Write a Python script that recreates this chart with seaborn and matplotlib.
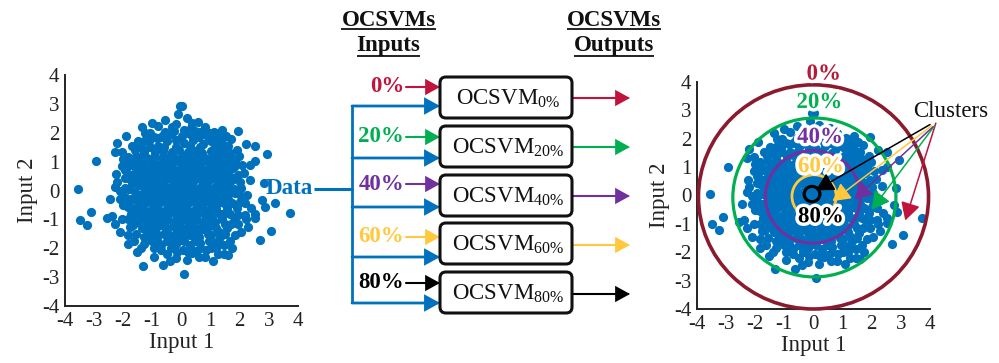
import numpy as np
import pandas as pd
import matplotlib
matplotlib.use("Agg")
import matplotlib.pyplot as plt
import seaborn as sns
from matplotlib.patches import FancyArrowPatch, FancyBboxPatch, Circle
import matplotlib.patheffects as pe

# ---------------------------------------------------------------- data
# outlying / mid-range samples (Input 1, Input 2)
spread_points = [
    (-3.54, 0.04), (-2.93, 1.02), (-3.48, -1.02), (-3.12, -0.76), (-3.26, -1.2),
    (-2.57, -0.94), (-2.4, -0.88), (-2.3, 1.32), (-2.25, 0.56), (-2.3, 0.13),
    (-2.3, -1.16), (-2.03, 1.35), (-1.71, 1.55), (-1.85, 1.17), (-1.88, 0.82),
    (-1.82, 0.42), (-1.71, 0.25), (-1.94, -0.21), (-1.82, -0.56), (-1.77, -1.25),
    (-1.82, -1.86), (-1.62, -1.74), (-1.54, -2.14), (-1.36, 2.19), (-1.33, -2.6),
    (-0.96, -2.29), (-0.62, -2.58), (-0.71, -2.06), (-0.16, -2.12), (0.09, -2.89),
    (0.24, -2.14), (0.45, -2.1), (0.81, -2.31), (1.08, -2.43), (1.27, -2.2),
    (1.59, -2.24), (1.85, -1.54), (1.93, -1.16), (2.17, -0.85), (2.19, -0.45),
    (2.04, 0.08), (2.13, 0.59), (2.07, 0.88), (1.96, 1.19), (2.22, 1.61),
    (2.51, 1.55), (2.53, 1.02), (2.93, 1.26), (2.82, 0.25), (2.76, -0.33),
    (2.88, -0.58), (3.22, -0.45), (3.74, -0.79), (3.08, -1.39), (2.7, -1.71),
    (2.53, -0.81), (2.53, -0.96), (1.71, 1.77), (1.54, 1.89), (1.13, 2.04),
    (0.99, 1.98), (0.64, 2.04), (0.56, 2.38), (0.33, 2.15), (0.18, 2.5),
    (-0.13, 2.64), (-0.05, 2.92), (0.01, 2.92), (-0.33, 2.21), (-0.58, 2.04),
    (-1.08, 1.98), (-1.19, 1.81), (-0.85, 1.81), (-1.42, 1.12), (-1.08, 1.52),
    (-1.02, 1.06), (-1.48, 0.19), (-1.42, -0.16), (-1.56, -0.33), (-1.42, -0.79),
    (-1.51, -1.08), (-1.19, -1.37), (-1.08, -1.6), (-0.79, -1.77), (-0.39, -1.8),
    (-0.05, -1.71), (0.64, -1.83), (1.01, -1.77), (1.33, -1.6), (1.65, -1.74),
    (1.56, -1.31), (1.79, -0.91), (1.85, -0.1), (1.73, 0.36), (1.79, 0.82),
    (1.67, 1.29), (1.39, 1.63), (1.21, 1.4), (1.2, 1.6), (1.35, 1.48),
    (1.5, 1.35), (1.65, 1.2),
    (-1.6, 0.6), (-1.55, 0.95), (-1.3, 1.35), (-0.8, 1.55), (-0.5, 1.7),
    (-0.2, 1.75), (0.1, 1.65), (0.4, 1.75), (0.75, 1.6), (1.0, 1.7),
    (1.3, 1.2), (1.5, 0.95), (1.55, 0.6), (1.6, 0.2), (1.6, -0.3),
    (1.55, -0.65), (1.4, -1.0), (1.2, -1.3), (0.9, -1.5), (0.6, -1.6),
    (0.3, -1.55), (0.0, -1.5), (-0.3, -1.6), (-0.6, -1.5), (-0.9, -1.3),
    (-1.2, -1.1), (-1.45, -0.55), (-1.6, -0.05), (-1.65, 0.3), (-1.95, 0.1),
    (-2.0, -0.5), (-1.75, -0.8), (-2.05, -1.0), (-1.55, -1.5), (-1.3, -1.85),
    (-0.5, -2.2), (0.3, -1.9), (1.0, -2.0), (1.45, -1.9), (1.9, -0.6),
    (2.0, 0.3), (1.9, 1.4), (1.35, 1.9), (0.8, 2.2), (-0.2, 2.3),
    (-0.8, 2.25), (-1.5, 1.7), (-1.9, 1.9), (-2.05, 0.85), (2.25, -0.15),
    (2.3, -1.25), (0.2, -2.4),
]

# ring of moderately dense samples around the centre
ring_points = [
    (-1.55, 1.2), (-1.4, 1.5), (-1.1, 1.7), (-0.7, 1.85), (-0.35, 1.95), (0.0, 1.9),
    (0.3, 1.95), (0.6, 1.85), (0.9, 1.85), (1.15, 1.55), (1.45, 1.1), (1.7, 0.75),
    (1.75, 0.45), (1.8, 0.05), (1.75, -0.45), (1.65, -0.8), (1.5, -1.15), (1.3, -1.45),
    (1.0, -1.55), (0.75, -1.35), (0.45, -1.75), (0.1, -1.75), (-0.2, -1.85), (-0.5, -1.75),
    (-0.8, -1.55), (-1.05, -1.45), (-1.35, -1.3), (-1.55, -0.95), (-1.7, -0.6), (-1.75, -0.3),
    (-1.8, 0.05), (-1.75, 0.55), (-1.7, 0.9), (-1.45, 0.75), (-1.55, 0.35), (-1.5, -0.7),
    (1.45, -0.45), (1.6, 0.45), (1.3, 0.85), (1.55, 1.05),
    (-2.1, -0.3), (-2.2, 0.3), (-2.0, 1.1), (-1.25, 2.0), (-0.55, 2.45), (0.35, 2.35),
    (1.4, 2.1), (2.35, 0.35), (2.4, -0.6), (2.05, -1.45), (1.2, -2.0), (-0.2, -2.35),
    (-0.95, -2.0), (-2.1, -1.45), (-2.45, -0.3), (-1.0, 2.35), (0.85, -2.05), (2.05, -0.2),
    (-2.2, 1.65), (1.75, -2.0),
    (-1.95, 0.45), (-1.9, -0.4), (-1.85, -1.0), (-1.65, -1.2), (-1.3, -1.6), (-1.0, -1.75),
    (-0.7, -1.9), (-0.35, -2.0), (0.05, -2.05), (0.35, -2.15), (0.65, -2.0), (0.95, -1.75),
    (1.25, -1.75), (1.5, -1.5), (1.7, -1.15), (1.95, -0.85), (2.0, -0.4), (1.95, 0.55),
    (1.85, 1.0), (1.6, 1.55), (1.2, 1.85), (0.8, 1.95), (0.45, 2.05), (0.1, 2.1),
    (-0.25, 2.05), (-0.6, 1.95), (-0.95, 1.85), (-1.3, 1.7), (-1.6, 1.4), (-1.8, 1.05),
    (-1.95, 0.7), (-2.1, 0.0), (-1.85, -1.55), (-1.4, -2.0), (-0.4, -2.45), (0.6, -2.3),
    (1.45, -2.2), (2.2, -1.0), (2.35, 0.9), (1.95, 2.05),
]

# dense central samples
core_points = [
    (-0.9, 1.35), (-0.62, 1.38), (-0.33, 1.32), (-0.08, 1.4), (0.21, 1.33), (0.47, 1.37), (0.72, 1.31), (1.02, 1.36),
    (-1.18, 1.14), (-0.96, 1.17), (-0.68, 1.12), (-0.44, 1.16), (-0.21, 1.13), (0.06, 1.18), (0.29, 1.12), (0.57, 1.16), (0.81, 1.13), (1.06, 1.17), (1.31, 1.12),
    (-1.36, 0.94), (-1.09, 0.97), (-0.86, 0.93), (-0.58, 0.96), (-0.36, 0.92), (-0.09, 0.97), (0.16, 0.93), (0.41, 0.96), (0.63, 0.92), (0.91, 0.97), (1.14, 0.93), (1.41, 0.96),
    (-1.24, 0.74), (-1.01, 0.77), (-0.73, 0.73), (-0.51, 0.76), (-0.24, 0.72), (0.02, 0.77), (0.26, 0.73), (0.49, 0.76), (0.77, 0.72), (0.99, 0.77), (1.26, 0.73), (1.49, 0.76),
    (-1.41, 0.54), (-1.14, 0.57), (-0.91, 0.53), (-0.64, 0.56), (-0.39, 0.52), (-0.16, 0.57), (0.11, 0.53), (0.34, 0.56), (0.61, 0.52), (0.84, 0.57), (1.11, 0.53), (1.34, 0.56),
    (-1.29, 0.34), (-1.06, 0.37), (-0.79, 0.33), (-0.56, 0.36), (-0.29, 0.32), (-0.06, 0.37), (0.21, 0.33), (0.44, 0.36), (0.71, 0.32), (0.94, 0.37), (1.21, 0.33), (1.44, 0.36),
    (-1.36, 0.14), (-1.09, 0.17), (-0.86, 0.13), (-0.59, 0.16), (-0.36, 0.12), (-0.09, 0.17), (0.16, 0.13), (0.39, 0.16), (0.66, 0.12), (0.89, 0.17), (1.16, 0.13), (1.39, 0.16),
    (-1.24, -0.04), (-1.01, -0.07), (-0.74, -0.03), (-0.51, -0.06), (-0.24, -0.02), (0.01, -0.07), (0.26, -0.03), (0.49, -0.06), (0.76, -0.02), (0.99, -0.07), (1.26, -0.03), (1.51, -0.06),
    (-1.36, -0.24), (-1.09, -0.27), (-0.86, -0.23), (-0.59, -0.26), (-0.36, -0.22), (-0.09, -0.27), (0.16, -0.23), (0.39, -0.26), (0.66, -0.22), (0.89, -0.27), (1.16, -0.23), (1.41, -0.26),
    (-1.26, -0.44), (-0.99, -0.47), (-0.76, -0.43), (-0.49, -0.46), (-0.26, -0.42), (0.01, -0.47), (0.24, -0.43), (0.51, -0.46), (0.74, -0.42), (1.01, -0.47), (1.24, -0.43),
    (-1.31, -0.64), (-1.04, -0.67), (-0.81, -0.63), (-0.54, -0.66), (-0.31, -0.62), (-0.04, -0.67), (0.19, -0.63), (0.46, -0.66), (0.69, -0.62), (0.96, -0.67), (1.19, -0.63),
    (-1.19, -0.84), (-0.96, -0.87), (-0.69, -0.83), (-0.46, -0.86), (-0.19, -0.82), (0.04, -0.87), (0.31, -0.83), (0.54, -0.86), (0.81, -0.82), (1.04, -0.87), (1.31, -0.83),
    (-1.01, -1.04), (-0.74, -1.07), (-0.51, -1.03), (-0.24, -1.06), (0.01, -1.02), (0.26, -1.07), (0.49, -1.03), (0.76, -1.06), (0.99, -1.02),
    (-0.79, -1.24), (-0.56, -1.27), (-0.29, -1.23), (-0.06, -1.26), (0.21, -1.22), (0.44, -1.27), (0.71, -1.23),
    (-0.51, -1.44), (-0.19, -1.47), (0.11, -1.43), (0.41, -1.46),
    (-0.78, 0.86), (-0.22, 0.63), (0.35, 0.85), (0.87, 0.44), (-0.47, 0.05), (0.55, -0.15),
    (-0.95, -0.35), (-0.12, -0.55), (0.4, -0.95), (-0.65, -0.95), (1.1, -0.75), (0.05, 0.25),
    (-1.45, 1.05), (-1.52, 0.65), (-1.5, 0.25), (-1.48, -0.15), (-1.4, -0.45), (-1.32, -0.95),
    (-1.1, -1.2), (-0.9, -1.4), (1.1, 1.45), (1.4, 1.3), (1.6, 0.9), (1.62, -0.1),
    (1.5, -0.45), (1.42, -0.8), (1.15, -1.1), (0.9, -1.25), (0.6, -1.4), (0.25, -1.5),
    (-0.2, 1.52), (0.3, 1.55), (0.65, 1.5), (-0.6, 1.5),
]

all_points = spread_points + ring_points + core_points
df = pd.DataFrame(all_points, columns=["Input 1", "Input 2"])

# contamination levels and their colours
levels = ["0%", "20%", "40%", "60%", "80%"]
level_colors = ["#C0143C", "#00B050", "#7030A0", "#FFC83D", "#000000"]
circle_colors = ["#8C1A2E", "#00B050", "#7030A0", "#FFC83D", "#000000"]
label_colors_out = ["#B5193A", "#00B050", "#7030A0", "#FFC83D", "#000000"]
# decision-boundary radii on the output plot
boundary_radius = [3.95, 2.8, 1.63, 0.76, 0.27]
boundary_center = [(0.0, -0.05), (0.03, -0.07), (-0.02, -0.05), (0.02, -0.03), (-0.05, 0.05)]
# label positions for each boundary
label_pos = [(0.35, 4.28), (0.2, 3.28), (0.22, 2.05), (0.25, 1.02), (0.25, -0.75)]
# cluster arrows: tail and tip (data units)
arrow_tails = [(4.2, 2.55), (4.15, 2.45), (4.1, 2.42), (4.05, 2.45), (4.0, 2.5)]
arrow_tips = [(3.15, -0.88), (2.0, -0.5), (1.4, -0.14), (0.65, -0.2), (0.08, 0.18)]

ticks = [-4, -3, -2, -1, 0, 1, 2, 3, 4]
BLUE = "#0072BD"

# ---------------------------------------------------------------- style
sns.set_style("white")
plt.rcParams["font.family"] = ["Liberation Serif", "DejaVu Serif"]
plt.rcParams["mathtext.fontset"] = "custom"
plt.rcParams["mathtext.rm"] = "Liberation Serif"
plt.rcParams["mathtext.it"] = "Liberation Serif:italic"

W, H = 999, 363
fig = plt.figure(figsize=(W / 100, H / 100), dpi=100)


def px_axes(x0, y0, x1, y1):
    return fig.add_axes([x0 / W, 1 - y1 / H, (x1 - x0) / W, (y1 - y0) / H])


def style_axes(ax):
    ax.set_xlim(-4, 4)
    ax.set_ylim(-4, 4)
    ax.set_xticks(ticks)
    ax.set_yticks(ticks)
    ax.set_xticklabels([str(t) for t in ticks])
    ax.set_yticklabels([str(t) for t in ticks])
    sns.despine(ax=ax)
    for s in ("left", "bottom"):
        ax.spines[s].set_color("#222222")
        ax.spines[s].set_linewidth(1.4)
    ax.tick_params(direction="in", length=4, width=1.2, labelsize=15,
                   pad=4, colors="#222222", labelcolor="#222222")
    ax.set_xlabel("Input 1", fontsize=16.5, labelpad=1, color="#222222")
    ax.set_ylabel("Input 2", fontsize=16.5, labelpad=3, color="#222222")


# ---------------------------------------------------------------- left: raw data
ax_in = px_axes(65, 75, 298, 306)
sns.scatterplot(data=df, x="Input 1", y="Input 2", ax=ax_in, color=BLUE,
                s=44, linewidth=0, legend=False)
style_axes(ax_in)

# ---------------------------------------------------------------- right: outputs
ax_out = px_axes(697, 82, 930, 309)
sns.scatterplot(data=df, x="Input 1", y="Input 2", ax=ax_out, color=BLUE,
                s=44, linewidth=0, legend=False)
style_axes(ax_out)

for r, c, col, lw in zip(boundary_radius, boundary_center, circle_colors,
                         [2.6, 2.3, 2.3, 2.0, 2.3]):
    ax_out.add_patch(Circle(c, r, fill=False, ec=col, lw=lw, zorder=4, clip_on=False))

glow = [pe.withStroke(linewidth=5, foreground="white")]
for lab, (lx, ly), col in zip(levels, label_pos, label_colors_out):
    ax_out.text(lx, ly, lab, color=col, fontsize=16.5, fontweight="bold",
                ha="center", va="center", zorder=6, path_effects=glow, clip_on=False)

for (tx, ty), (hx, hy), col in zip(arrow_tails, arrow_tips, level_colors):
    ax_out.annotate("", xy=(hx, hy), xytext=(tx, ty),
                    arrowprops=dict(arrowstyle="-|>,head_length=0.4,head_width=0.22",
                                    color=col, lw=1.1, mutation_scale=27,
                                    shrinkA=0, shrinkB=0),
                    zorder=7, annotation_clip=False)
ax_out.text(4.72, 2.95, "Clusters", fontsize=16.5, ha="center", va="center",
            color="#111111", zorder=7, clip_on=False)

# ---------------------------------------------------------------- middle: OCSVM bank
ov = fig.add_axes([0, 0, 1, 1])
ov.set_xlim(0, W)
ov.set_ylim(H, 0)
ov.axis("off")

# column headings, underlined
headings = []
for cx, sub in [(388.5, "Inputs"), (614, "Outputs")]:
    headings.append((ov.text(cx, 26, "OCSVMs", fontsize=16.5, fontweight="bold",
                             ha="center", va="baseline", color="#111111"), 3))
    headings.append((ov.text(cx, 51, sub, fontsize=16.5, fontweight="bold",
                             ha="center", va="baseline", color="#111111"), 5))
renderer = fig.canvas.get_renderer()
inv = ov.transData.inverted()
for t, off in headings:
    bb = t.get_window_extent(renderer)
    (x0, _), (x1, _) = inv.transform([(bb.x0, bb.y0), (bb.x1, bb.y0)])
    uy = t.get_position()[1] + off
    ov.plot([x0, x1], [uy, uy], color="#111111", lw=1.3, solid_capstyle="butt")

box_x0, box_x1 = 440, 572
box_tops = [77, 126, 175, 223, 272]
box_h = 41
in_arrow_y = [87, 137, 184, 237, 283]
data_arrow_y = [106, 158, 207, 257, 303]
out_arrow_y = [98, 147, 196, 245, 294]


def arrow(x0, y0, x1, y1, col, lw, ms=21):
    ov.add_patch(FancyArrowPatch((x0, y0), (x1, y1),
                                 arrowstyle="-|>,head_length=0.4,head_width=0.22",
                                 mutation_scale=ms, color=col, lw=lw,
                                 shrinkA=0, shrinkB=0, joinstyle="miter"))


for i, lab in enumerate(levels):
    top = box_tops[i]
    ov.add_patch(FancyBboxPatch((box_x0, top), box_x1 - box_x0, box_h,
                                boxstyle="round,pad=0,rounding_size=6",
                                fc="white", ec="#111111", lw=2.2, zorder=3))
    ov.text((box_x0 + box_x1) / 2 + 2, top + 27.5,
            r"OCSVM$_{\mathrm{" + lab.replace("%", r"\%") + "}}$",
            fontsize=16.5, ha="center", va="baseline", color="#111111", zorder=4)
    # contamination input
    ov.text(404, in_arrow_y[i], lab, color=level_colors[i], fontsize=16.5,
            fontweight="bold", ha="right", va="center")
    arrow(406, in_arrow_y[i], box_x0, in_arrow_y[i], level_colors[i], 1.5)
    # data input
    arrow(352, data_arrow_y[i], box_x0, data_arrow_y[i], BLUE, 2.0)
    # output
    arrow(box_x1, out_arrow_y[i], 630, out_arrow_y[i], level_colors[i], 1.5)

ov.plot([352, 352], [data_arrow_y[0], data_arrow_y[-1]], color=BLUE, lw=2.0,
        solid_capstyle="butt")
ov.plot([314, 353], [189, 189], color=BLUE, lw=2.2, solid_capstyle="butt")
ov.text(313, 188, "Data", color=BLUE, fontsize=16.5, fontweight="bold",
        ha="right", va="center")

fig.savefig("out.png", dpi=100)
